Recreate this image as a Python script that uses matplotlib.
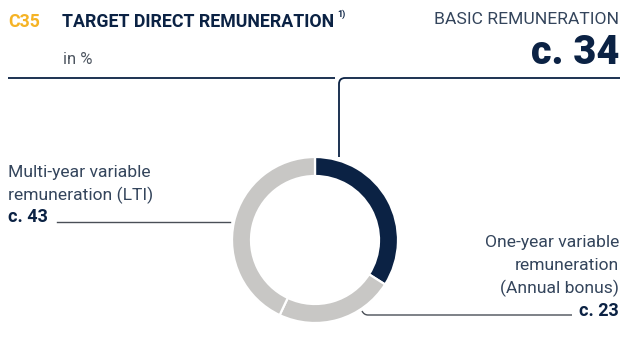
"""
Donut chart of the target direct remuneration split
"""
import matplotlib
matplotlib.use('Agg')
import matplotlib.pyplot as plt
from matplotlib.path import Path
from matplotlib.patches import PathPatch

# shares in percent, clockwise from the top
labels = ['Basic remuneration', 'One-year variable remuneration',
          'Multi-year variable remuneration']
shares = [34, 23, 43]
share_labels = ['c. 34', 'c. 23', 'c. 43']

NAVY = '#0b2244'
GREY = '#c8c7c5'
TEXT = '#34455c'
ORANGE = '#f5b325'
LINE = '#4a4f57'

plt.rcParams['font.family'] = ['Roboto', 'DejaVu Sans']

fig = plt.figure(figsize=(6.21, 3.4), dpi=100)
ax = fig.add_axes([0, 0, 1, 1])

# donut, starting at 12 o'clock and running clockwise (y axis is flipped)
ax.pie(shares, colors=[NAVY, GREY, GREY], startangle=-90, counterclock=True,
       center=(315, 240), radius=83, frame=True,
       wedgeprops=dict(width=19, edgecolor='white', linewidth=1.6))
ax.set_xlim(0, 621)
ax.set_ylim(340, 0)
ax.set_aspect('equal')
ax.set_axis_off()

# header
ax.text(8, 22, 'C35', color=ORANGE, fontsize=12.8, fontweight='bold',
        va='center')
ax.text(62, 22, 'TARGET DIRECT REMUNERATION', color=NAVY, fontsize=12.8,
        fontweight='bold', va='center')
ax.text(337, 14, '1)', color=NAVY, fontsize=6.5, fontweight='bold',
        va='center')
ax.text(63, 60, 'in %', color='#4e5661', fontsize=12, va='center')
ax.plot([8, 335], [78, 78], color=NAVY, lw=1.3, solid_capstyle='butt')

# basic remuneration label and its connector
ax.text(619, 20, 'BASIC REMUNERATION', color=TEXT, fontsize=12.6,
        ha='right', va='center')
ax.text(619, 53, share_labels[0], color=NAVY, fontsize=28.5,
        fontweight='black', ha='right', va='center')
verts = [(620, 78), (345, 78), (339, 78), (339, 84), (339, 157)]
codes = [Path.MOVETO, Path.LINETO, Path.CURVE3, Path.CURVE3, Path.LINETO]
ax.add_patch(PathPatch(Path(verts, codes), fill=False, edgecolor=NAVY,
                       lw=1.3))

# multi-year variable remuneration
ax.text(8, 172, 'Multi-year variable', color=TEXT, fontsize=12.6,
        va='center')
ax.text(8, 195, 'remuneration (LTI)', color=TEXT, fontsize=12.6,
        va='center')
ax.text(8, 217, share_labels[2], color=NAVY, fontsize=13, fontweight='bold',
        va='center')
ax.plot([57, 230], [222, 222], color=LINE, lw=1.0)

# one-year variable remuneration
for y, s in zip([242, 265, 288], ['One-year variable', 'remuneration',
                                   '(Annual bonus)']):
    ax.text(619, y, s, color=TEXT, fontsize=12.6, ha='right', va='center')
ax.text(619, 311, share_labels[1], color=NAVY, fontsize=13,
        fontweight='bold', ha='right', va='center')
verts = [(362, 311), (364, 315), (368, 315), (572, 315)]
codes = [Path.MOVETO, Path.CURVE3, Path.CURVE3, Path.LINETO]
ax.add_patch(PathPatch(Path(verts, codes), fill=False, edgecolor=LINE,
                       lw=1.0))

fig.savefig('out.png', dpi=100)
